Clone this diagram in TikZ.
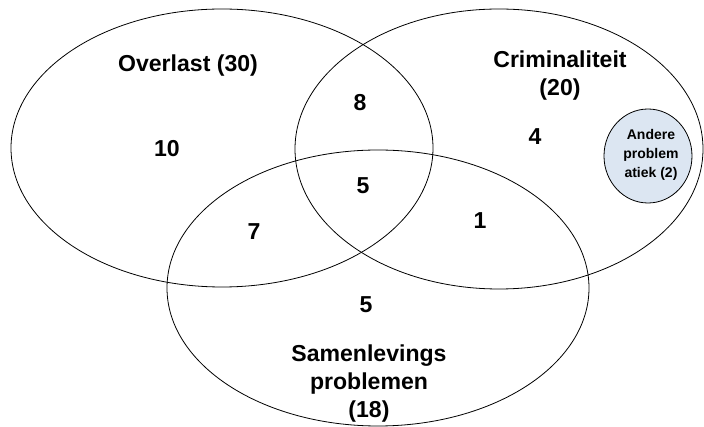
\documentclass[tikz,border=0pt]{standalone}
\usepackage{fontspec}
\setmainfont{Liberation Sans}
\usetikzlibrary{shapes.geometric}
\definecolor{paleblue}{RGB}{220,230,242}
\begin{document}
\begin{tikzpicture}[x=0.75pt,y=-0.75pt,
  set/.style={ellipse,draw=black,line width=0.6pt,inner sep=0pt},
  lbl/.style={font=\bfseries\fontsize{17.3}{21}\selectfont,align=center,inner sep=0pt},
  num/.style={font=\bfseries\fontsize{17.3}{21}\selectfont,inner sep=0pt},
  smalllbl/.style={font=\bfseries\fontsize{10.5}{14.25}\selectfont,align=center,inner sep=0pt}]
\useasboundingbox (0,0) rectangle (704,427);
% sets
\node[set,minimum width=316.5pt,minimum height=208.5pt] (overlast) at (222,148) {};
\node[set,minimum width=306pt,minimum height=210pt] (crim) at (499,149) {};
\node[set,minimum width=316.5pt,minimum height=207pt] (samen) at (378,288) {};
\node[set,fill=paleblue,minimum width=66pt,minimum height=70.5pt] (andere) at (648,156) {};
% labels
\node[lbl] (tOverlast) at (188,66) {Overlast (30)};
\node[lbl] (tCrim) at (560,76) {Criminaliteit\\(20)};
\node[lbl] (tSamen) at (369,384) {Samenlevings\\problemen\\(18)};
\node[smalllbl] (tAndere) at (651,155) {Andere\\problem\\atiek (2)};
% counts
\node[num] (n10) at (167,149) {10};
\node[num] (n8) at (360,103) {8};
\node[num] (n5c) at (363,186) {5};
\node[num] (n7) at (254,232) {7};
\node[num] (n1) at (480,221) {1};
\node[num] (n4) at (535,137) {4};
\node[num] (n5s) at (366,305) {5};
\end{tikzpicture}
\end{document}
